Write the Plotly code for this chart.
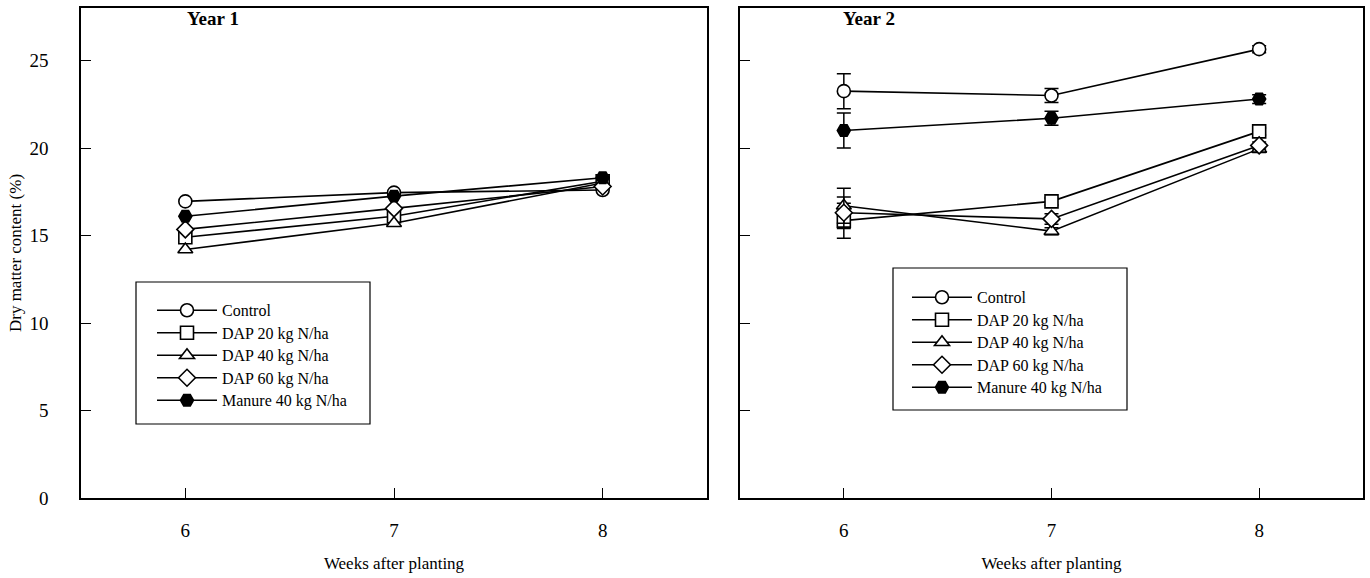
import plotly.graph_objects as go

# Weeks after planting
weeks = [6, 7, 8]

treatments = ["Control", "DAP 20 kg N/ha", "DAP 40 kg N/ha", "DAP 60 kg N/ha", "Manure 40 kg N/ha"]
symbols = ["circle", "square", "triangle-up", "diamond", "hexagon2"]
fills = ["white", "white", "white", "white", "black"]

# Dry matter content (%), Year 1
y1_control = [16.95, 17.45, 17.6]
y1_dap20 = [14.9, 16.1, 18.1]
y1_dap40 = [14.2, 15.7, 18.0]
y1_dap60 = [15.35, 16.55, 17.8]
y1_manure = [16.1, 17.25, 18.3]

# Dry matter content (%), Year 2, with standard errors
y2_control = [23.25, 23.0, 25.65]
y2_dap20 = [15.85, 16.95, 20.95]
y2_dap40 = [16.7, 15.25, 19.95]
y2_dap60 = [16.3, 15.95, 20.15]
y2_manure = [21.0, 21.7, 22.8]
y2_control_err = [1.0, 0.4, 0.2]
y2_dap20_err = [1.0, 0.2, 0.2]
y2_dap40_err = [1.0, 0.2, 0.2]
y2_dap60_err = [0.9, 0.3, 0.2]
y2_manure_err = [1.0, 0.4, 0.25]

year1 = [y1_control, y1_dap20, y1_dap40, y1_dap60, y1_manure]
year2 = [y2_control, y2_dap20, y2_dap40, y2_dap60, y2_manure]
year2_err = [y2_control_err, y2_dap20_err, y2_dap40_err, y2_dap60_err, y2_manure_err]

FONT = "Liberation Serif, Times New Roman, serif"
W, H = 1370, 578
MT, MB = 8, 80
PH = H - MT - MB

fig = go.Figure()


def add_panel(data, errs, xa, ya, legend):
    for i, (name, sym, fill, vals) in enumerate(zip(treatments, symbols, fills, data)):
        err = dict(visible=False)
        if errs is not None:
            err = dict(type="data", array=errs[i], visible=True, color="black",
                       thickness=1.5, width=7)
        fig.add_trace(go.Scatter(
            x=weeks, y=vals, mode="lines+markers",
            # legend rows are packed tightly; entry text is set a bit larger
            name=f'<span style="font-size:16px">{name}</span>',
            xaxis=xa, yaxis=ya, legend=legend,
            line=dict(color="black", width=1.6),
            marker=dict(symbol=sym, size=13, color=fill,
                        line=dict(color="black", width=1.6)),
            error_y=err,
        ))


add_panel(year1, None, "x", "y", "legend")
add_panel(year2, year2_err, "x2", "y2", "legend2")

x1_dom = [81 / W, 707 / W]
x2_dom = [740 / W, 1363 / W]

axis_common = dict(showline=True, linecolor="black", linewidth=1.6, mirror=True,
                   ticks="inside", ticklen=10, tickcolor="black", tickwidth=1,
                   showgrid=False, zeroline=False,
                   tickfont=dict(family=FONT, size=19, color="black"))

xtitle_font = dict(family=FONT, size=17, color="black")
legend_font = dict(family=FONT, size=15, color="black")

fig.update_layout(
    width=W, height=H,
    margin=dict(l=0, r=0, t=MT, b=MB),
    paper_bgcolor="white", plot_bgcolor="white",
    showlegend=True,
    xaxis=dict(domain=x1_dom, range=[5.5, 8.5], tickvals=weeks, anchor="y",
               ticklabelstandoff=14,
               title=dict(text="Weeks after planting", font=xtitle_font, standoff=18),
               **axis_common),
    yaxis=dict(domain=[0, 1], range=[0, 28], tickvals=[0, 5, 10, 15, 20, 25], anchor="x",
               ticklabelstandoff=27,
               title=dict(text="Dry matter content (%)", font=dict(family=FONT, size=17, color="black"),
                          standoff=3),
               **axis_common),
    xaxis2=dict(domain=x2_dom, range=[5.5, 8.5], tickvals=weeks, anchor="y2",
                ticklabelstandoff=14,
                title=dict(text="Weeks after planting", font=xtitle_font, standoff=18),
                **axis_common),
    yaxis2=dict(domain=[0, 1], range=[0, 28], tickvals=[0, 5, 10, 15, 20, 25], anchor="x2",
                showticklabels=False, **axis_common),
    legend=dict(x=152 / W, y=(498 - 294) / PH, xanchor="left", yanchor="top",
                bgcolor="rgba(0,0,0,0)", borderwidth=0, itemwidth=60,
                tracegroupgap=0, font=legend_font),
    legend2=dict(x=907 / W, y=(498 - 281) / PH, xanchor="left", yanchor="top",
                 bgcolor="rgba(0,0,0,0)", borderwidth=0, itemwidth=60,
                 tracegroupgap=0, font=legend_font),
    shapes=[
        dict(type="rect", xref="paper", yref="paper",
             x0=136 / W, x1=370 / W, y0=(498 - 424) / PH, y1=(498 - 282) / PH,
             line=dict(color="black", width=1.2), fillcolor="rgba(0,0,0,0)", layer="below"),
        dict(type="rect", xref="paper", yref="paper",
             x0=893 / W, x1=1127 / W, y0=(498 - 410) / PH, y1=(498 - 268) / PH,
             line=dict(color="black", width=1.2), fillcolor="rgba(0,0,0,0)", layer="below"),
    ],
    annotations=[
        dict(text="<b>Year 1</b>", x=213 / W, y=(498 - 18) / PH, xref="paper", yref="paper",
             xanchor="center", yanchor="middle",
             showarrow=False, font=dict(family=FONT, size=19, color="black")),
        dict(text="<b>Year 2</b>", x=869 / W, y=(498 - 18) / PH, xref="paper", yref="paper",
             xanchor="center", yanchor="middle",
             showarrow=False, font=dict(family=FONT, size=19, color="black")),
    ],
)

fig.write_html("out.html")
